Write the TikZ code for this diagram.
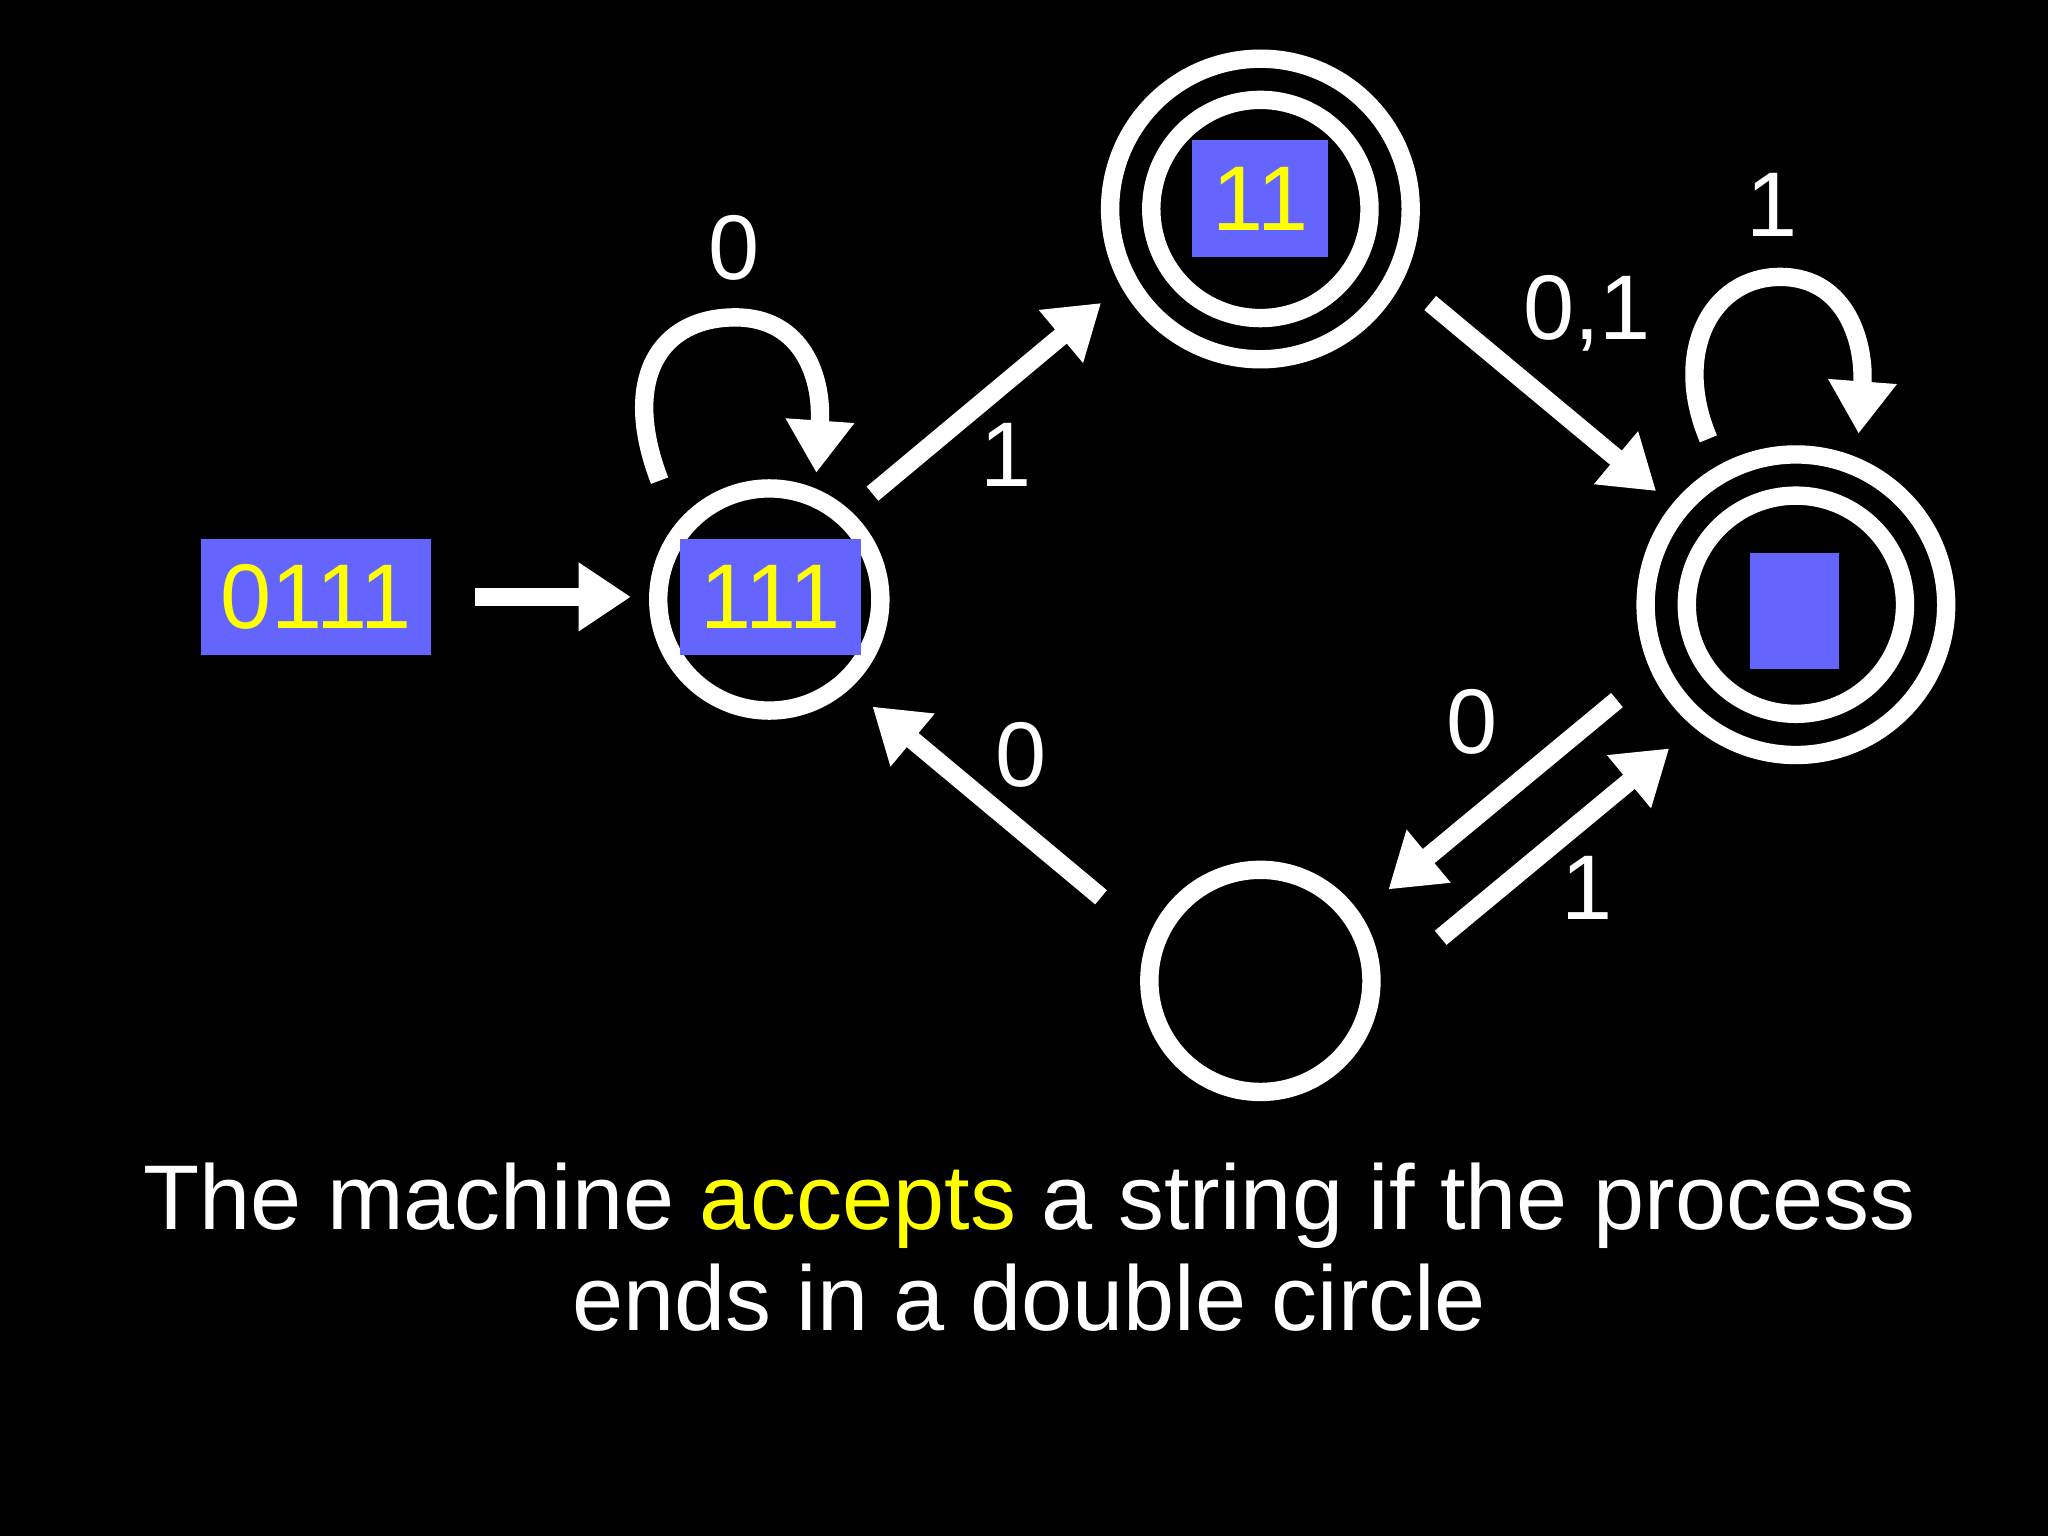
\documentclass[tikz,border=0pt]{standalone}
\usepackage{fontspec}
\setmainfont{Liberation Sans}
\usetikzlibrary{arrows.meta}
\definecolor{boxblue}{HTML}{6464FF}
\definecolor{yel}{HTML}{FFFF00}
\begin{document}
\begin{tikzpicture}[x=0.01cm,y=-0.01cm,
  st/.style={circle,draw=white,line width=4pt,minimum size=1.7cm,inner sep=0pt},
  acc/.style={circle,draw=white,line width=4pt,minimum size=2.3cm,inner sep=0pt},
  inner/.style={circle,draw=white,line width=4pt,minimum size=1.67cm,inner sep=0pt},
  tape/.style={fill=boxblue,text=yel,font=\fontsize{20}{24}\selectfont,inner sep=0pt},
  lab/.style={text=white,font=\fontsize{20}{24}\selectfont},
  edge/.style={draw=white,line width=4pt,-{Triangle[width=0.5cm,length=0.4cm]}}]
\fill[black] (0,0) rectangle (1568,1176);
\node[tape,minimum width=1.76cm,minimum height=0.89cm] (in) at (242,457) {0111};
\node[st] (q0) at (589,459) {};
\node[tape,minimum width=1.39cm,minimum height=0.89cm] (b0) at (590,457) {111};
\node[acc] (q1) at (965,160) {};
\node[inner] (q1i) at (965,160) {};
\node[tape,minimum width=1.04cm,minimum height=0.89cm] (b1) at (965,152) {11};
\node[acc] (q2) at (1375,463) {};
\node[inner] (q2i) at (1375,463) {};
\node[tape,minimum width=0.68cm,minimum height=0.89cm] (b2) at (1374,468) {};
\node[st] (q3) at (965,751) {};
\coordinate (a1) at (364,457); \coordinate (a2) at (483,457);
\draw[edge] (a1) -- (a2);
\coordinate (e1s) at (668,378); \coordinate (e1t) at (843,232);
\draw[edge] (e1s) -- (e1t);
\coordinate (e2s) at (1095,232); \coordinate (e2t) at (1268,376);
\draw[edge] (e2s) -- (e2t);
\coordinate (e3s) at (1238,536); \coordinate (e3t) at (1063,681);
\draw[edge] (e3s) -- (e3t);
\coordinate (e4s) at (1103,718); \coordinate (e4t) at (1278,573);
\draw[edge] (e4s) -- (e4t);
\coordinate (e5s) at (843,687); \coordinate (e5t) at (668,541);
\draw[edge] (e5s) -- (e5t);
\coordinate (l0s) at (505,368); \coordinate (l0t) at (625,362);
\draw[edge] (l0s) .. controls (475,290) and (505,243) .. (563,243) .. controls (615,243) and (630,290) .. (l0t);
\coordinate (l2s) at (1308,336); \coordinate (l2t) at (1423,332);
\draw[edge] (l2s) .. controls (1280,270) and (1310,212) .. (1363,212) .. controls (1415,212) and (1428,265) .. (l2t);
\node[lab] (t1) at (562,190) {0};
\node[lab] (t2) at (770,348) {1};
\node[lab] (t3) at (1215,240) {0,1};
\node[lab] (t4) at (1357,157) {1};
\node[lab] (t5) at (1127,553) {0};
\node[lab] (t6) at (1215,680) {1};
\node[lab] (t7) at (782,578) {0};
\node[lab,align=center] (cap) at (788,955) {The machine \textcolor{yel}{accepts} a string if the process\\[-2pt] ends in a double circle};
\end{tikzpicture}
\end{document}
